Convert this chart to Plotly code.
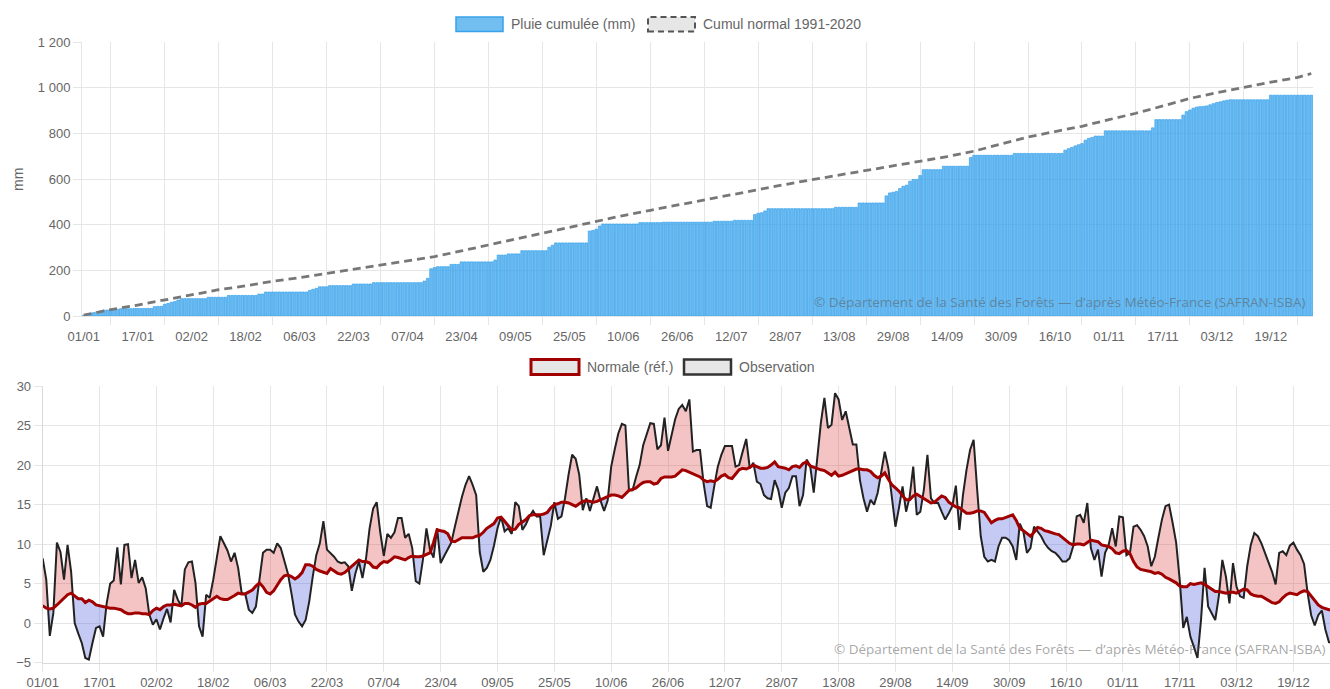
import plotly.graph_objects as go

W, H = 1330, 689

# ---------------- data ----------------
tick_labels = ["01/01", "17/01", "02/02", "18/02", "06/03", "22/03", "07/04", "23/04",
               "09/05", "25/05", "10/06", "26/06", "12/07", "28/07", "13/08", "29/08",
               "14/09", "30/09", "16/10", "01/11", "17/11", "03/12", "19/12"]
tick_days = list(range(0, 365, 16))
days = list(range(365))

rain_cumul = [
    3, 6, 12, 15, 19, 22, 26, 26, 29, 29,
    29, 32, 32, 32, 32, 33, 33, 33, 33, 33,
    33, 41, 42, 42, 51, 55, 60, 63, 70, 76,
    76, 76, 76, 76, 76, 76, 76, 82, 82, 82,
    82, 82, 82, 90, 90, 90, 90, 90, 90, 90,
    90, 90, 96, 96, 105, 105, 105, 105, 105, 105,
    105, 105, 105, 105, 105, 105, 105, 112, 117, 121,
    128, 128, 128, 133, 133, 133, 133, 133, 133, 133,
    140, 140, 140, 140, 140, 140, 146, 146, 146, 146,
    146, 146, 146, 146, 146, 146, 146, 146, 146, 146,
    146, 153, 165, 207, 212, 216, 216, 216, 216, 226,
    226, 226, 237, 237, 237, 237, 237, 237, 237, 237,
    237, 237, 245, 267, 267, 267, 272, 272, 272, 272,
    286, 286, 286, 286, 286, 286, 286, 286, 301, 310,
    320, 320, 320, 320, 320, 320, 320, 320, 320, 320,
    372, 375, 380, 394, 403, 403, 403, 403, 403, 403,
    403, 403, 403, 403, 403, 409, 409, 409, 409, 409,
    409, 409, 411, 411, 411, 411, 411, 411, 411, 411,
    411, 411, 411, 411, 411, 411, 411, 415, 415, 415,
    415, 415, 415, 419, 419, 419, 419, 419, 419, 444,
    450, 452, 460, 470, 470, 470, 470, 470, 470, 470,
    470, 470, 470, 470, 470, 470, 470, 470, 470, 470,
    470, 470, 470, 476, 476, 476, 476, 476, 476, 476,
    495, 495, 495, 495, 495, 495, 495, 495, 526, 539,
    542, 545, 558, 568, 573, 590, 598, 598, 615, 641,
    641, 641, 641, 641, 641, 656, 656, 656, 656, 656,
    656, 656, 656, 694, 704, 704, 704, 704, 704, 704,
    704, 704, 704, 704, 704, 704, 712, 712, 712, 712,
    712, 712, 712, 712, 712, 712, 712, 712, 712, 712,
    712, 726, 733, 738, 745, 750, 755, 770, 778, 782,
    788, 788, 788, 811, 811, 811, 811, 811, 811, 811,
    811, 811, 811, 811, 811, 811, 811, 824, 860, 860,
    860, 860, 860, 860, 860, 860, 880, 895, 902, 910,
    915, 917, 918, 920, 925, 930, 935, 938, 942, 945,
    947, 947, 947, 947, 947, 947, 947, 947, 947, 947,
    947, 947, 967, 967, 967, 967, 967, 967, 967, 967,
    967, 967, 967, 967, 967,
]

normal_cumul_days = [0, 8, 16, 24, 32, 40, 48, 56, 64, 72, 80, 88, 96, 104, 112, 120,
                     128, 136, 144, 152, 160, 168, 176, 184, 192, 200, 208, 216, 224,
                     232, 240, 248, 256, 264, 272, 280, 288, 296, 304, 312, 320, 328,
                     336, 344, 352, 360, 364]
normal_cumul = [4, 28, 48, 70, 92, 115, 132, 152, 168, 187, 205, 223, 242, 260, 285, 311,
                336, 362, 388, 413, 440, 463, 486, 508, 532, 556, 576, 597, 617,
                639, 657, 678, 698, 722, 752, 784, 808, 831, 860, 888, 920, 953,
                978, 1002, 1024, 1045, 1062]

temp_obs = [
    8.2, 5.5, -1.6, 1.3, 10.2, 9.0, 5.5, 9.9, 6.5, 0.0,
    -1.3, -2.5, -4.4, -4.6, -2.5, -0.6, -0.4, -1.7, 2.5, 5.0,
    5.4, 9.6, 4.9, 9.9, 10.0, 5.7, 8.0, 5.1, 5.8, 4.4,
    1.1, -0.2, 0.5, -0.8, 0.6, 1.8, 0.1, 4.2, 3.0, 2.1,
    6.8, 7.7, 7.8, 5.1, -0.4, -1.7, 3.6, 3.2, 5.5, 8.4,
    11.0, 10.1, 9.2, 7.8, 8.9, 7.0, 3.8, 3.7, 1.7, 1.3,
    2.1, 5.5, 8.9, 9.3, 9.3, 8.9, 10.1, 9.5, 8.0, 6.3,
    3.8, 1.1, 0.2, -0.4, 0.4, 2.7, 5.9, 8.6, 10.1, 12.9,
    9.3, 8.9, 8.4, 7.8, 7.6, 7.7, 7.2, 4.1, 6.3, 7.8,
    5.7, 8.2, 12.0, 14.5, 15.3, 11.5, 8.5, 11.3, 10.8, 11.5,
    13.3, 13.3, 10.8, 11.3, 9.5, 5.3, 5.0, 8.0, 12.0, 9.3,
    8.3, 12.0, 7.6, 8.5, 9.3, 10.2, 12.2, 14.2, 16.0, 17.5,
    18.6, 17.5, 16.2, 9.0, 6.5, 7.0, 8.0, 9.8, 12.0, 13.5,
    11.6, 12.0, 11.3, 15.3, 14.8, 11.8, 12.5, 13.5, 14.2, 13.5,
    13.5, 8.6, 10.5, 12.3, 15.3, 13.2, 13.5, 15.8, 18.8, 21.3,
    20.8, 18.8, 14.3, 15.8, 14.2, 15.7, 17.3, 15.5, 14.2, 15.5,
    19.8, 22.0, 24.0, 25.2, 25.0, 16.8, 16.8, 18.5, 20.0, 22.5,
    24.0, 25.3, 25.2, 22.0, 22.5, 26.0, 21.8, 24.0, 25.8, 27.1,
    27.6, 26.8, 28.3, 21.7, 21.9, 21.9, 17.7, 14.8, 14.6, 17.3,
    19.8, 21.3, 22.4, 22.4, 22.4, 19.8, 20.0, 21.7, 23.3, 19.6,
    20.3, 17.9, 17.6, 16.2, 15.8, 15.7, 18.1, 16.9, 14.6, 16.5,
    17.1, 18.6, 18.6, 14.8, 16.2, 20.7, 19.9, 16.5, 20.7, 25.3,
    28.5, 24.7, 25.1, 29.1, 28.3, 25.7, 26.8, 24.9, 22.6, 22.6,
    18.1, 15.8, 14.1, 15.6, 15.0, 16.5, 19.4, 21.7, 19.6, 15.6,
    12.2, 14.6, 17.3, 14.1, 16.0, 19.8, 13.7, 14.1, 16.9, 21.3,
    15.8, 15.2, 15.2, 14.1, 13.1, 13.9, 14.8, 17.4, 11.8, 16.2,
    19.4, 21.9, 23.2, 16.9, 11.0, 8.4, 7.8, 8.0, 7.8, 9.7,
    10.8, 10.8, 10.5, 9.7, 8.0, 12.6, 11.6, 8.9, 9.5, 12.2,
    11.6, 11.0, 10.1, 9.5, 9.1, 8.9, 8.4, 7.8, 7.8, 8.2,
    9.7, 13.5, 13.7, 12.7, 15.2, 9.5, 8.0, 9.3, 5.9, 8.9,
    9.9, 12.0, 9.7, 13.5, 13.4, 8.6, 8.9, 12.2, 12.4, 11.8,
    11.0, 9.7, 7.2, 8.4, 10.8, 13.1, 14.8, 15.0, 12.7, 10.2,
    5.5, -0.6, 0.8, -1.7, -3.0, -4.4, 0.4, 7.0, 2.1, 1.3,
    0.4, 3.4, 8.0, 5.9, 2.5, 7.6, 4.6, 3.4, 3.2, 7.2,
    9.9, 11.4, 11.0, 10.1, 8.9, 7.6, 6.5, 4.9, 8.9, 9.1,
    8.6, 9.8, 10.2, 9.3, 8.6, 7.5, 3.8, 1.0, -0.3, 1.0,
    1.6, -0.8, -2.4, -2.5, -2.3,
]

temp_norm = [
    2.2, 1.9, 1.8, 1.9, 2.3, 2.7, 3.1, 3.6, 3.8, 3.4,
    3.1, 3.1, 2.6, 2.9, 2.7, 2.3, 2.2, 2.1, 2.0, 1.9,
    1.9, 1.8, 1.7, 1.4, 1.2, 1.2, 1.3, 1.3, 1.2, 1.2,
    1.1, 1.6, 1.9, 1.7, 2.1, 2.3, 2.3, 2.4, 2.3, 2.2,
    2.5, 2.5, 2.3, 2.0, 2.4, 2.5, 2.5, 2.8, 3.1, 3.4,
    3.1, 3.0, 3.0, 3.2, 3.5, 3.8, 3.7, 3.7, 3.9, 4.2,
    4.7, 5.1, 4.6, 3.9, 3.7, 4.1, 4.8, 5.5, 6.0, 6.1,
    5.9, 5.6, 5.9, 6.4, 7.4, 7.4, 7.2, 6.8, 6.6, 6.4,
    6.3, 6.9, 6.6, 6.3, 6.2, 6.4, 6.8, 7.2, 7.7, 8.0,
    7.8, 7.8, 7.6, 7.1, 7.0, 7.5, 7.8, 7.7, 8.0, 8.4,
    8.3, 8.1, 8.0, 8.3, 8.5, 8.4, 8.4, 8.5, 8.7, 8.9,
    10.2, 11.8, 11.7, 11.6, 11.3, 10.4, 10.3, 10.6, 10.8, 10.8,
    10.8, 10.8, 11.0, 11.1, 11.5, 12.0, 12.3, 12.6, 13.3, 13.4,
    12.9, 12.3, 11.8, 11.9, 12.5, 12.8, 13.1, 13.6, 13.7, 13.7,
    13.7, 13.8, 14.0, 14.6, 15.0, 15.1, 15.3, 15.3, 15.2, 15.0,
    14.8, 15.1, 15.4, 15.5, 15.4, 15.3, 15.4, 15.6, 15.7, 15.9,
    16.2, 16.2, 16.1, 15.9, 16.4, 16.8, 16.9, 17.1, 17.5, 17.8,
    17.9, 17.9, 17.6, 17.7, 18.3, 18.5, 18.5, 18.5, 18.6, 19.0,
    19.4, 19.3, 19.1, 18.9, 18.7, 18.5, 18.1, 17.9, 18.0, 17.9,
    18.2, 18.6, 18.8, 18.4, 18.3, 18.9, 19.4, 19.6, 19.5, 19.7,
    20.0, 19.8, 19.6, 19.6, 19.7, 20.0, 20.4, 19.8, 19.7, 19.6,
    19.4, 19.8, 19.9, 19.7, 20.2, 20.4, 19.9, 19.7, 19.6, 19.4,
    19.3, 19.0, 18.7, 19.1, 18.6, 18.7, 18.9, 19.1, 19.3, 19.5,
    19.5, 19.4, 19.4, 19.2, 18.7, 18.4, 18.6, 19.0, 18.2, 17.5,
    17.1, 16.7, 16.1, 15.6, 15.6, 16.1, 16.3, 16.0, 15.8, 15.5,
    15.2, 15.3, 15.7, 16.1, 15.9, 15.3, 15.0, 14.7, 14.6, 14.3,
    13.9, 13.9, 14.0, 14.2, 14.2, 14.0, 13.4, 12.7, 13.0, 13.2,
    13.2, 13.4, 13.6, 13.7, 13.0, 12.0, 11.7, 11.4, 11.0, 11.5,
    12.1, 12.0, 11.7, 11.6, 11.4, 11.3, 11.2, 10.8, 10.4, 10.1,
    9.9, 10.0, 10.0, 9.9, 10.2, 10.5, 10.4, 10.3, 9.9, 9.8,
    9.7, 9.4, 8.9, 8.8, 9.1, 9.2, 8.8, 7.8, 7.1, 6.8,
    6.7, 6.6, 6.5, 6.3, 6.4, 6.2, 5.8, 5.6, 5.4, 5.1,
    4.7, 4.6, 4.6, 5.0, 4.9, 5.0, 5.1, 4.9, 4.6, 4.3,
    4.0, 4.0, 3.9, 3.8, 3.9, 3.9, 3.8, 4.0, 4.3, 4.2,
    3.7, 3.5, 3.4, 3.4, 3.1, 2.9, 2.6, 2.5, 2.7, 3.2,
    3.6, 3.8, 3.7, 3.6, 3.9, 4.1, 4.0, 3.4, 2.8, 2.3,
    2.0, 1.8, 1.7, 1.7, 1.8,
]

y1_ticks = [0, 200, 400, 600, 800, 1000, 1200]
y1_labels = ["0", "200", "400", "600", "800", "1 000", "1 200"]
y2_ticks = [-5, 0, 5, 10, 15, 20, 25, 30]

assert len(rain_cumul) == 365, len(rain_cumul)
assert len(temp_obs) == 365, len(temp_obs)
assert len(temp_norm) == 365, len(temp_norm)
assert len(normal_cumul) == len(normal_cumul_days)

# ---------------- styles ----------------
GRID = "#e6e6e6"
TXT = "#666666"
FONT = "Liberation Sans, Arial, Helvetica, sans-serif"
BLUE = "rgb(54,162,235)"
DARKRED = "#a00000"
WATERMARK = "© Département de la Santé des Forêts — d’après Météo-France (SAFRAN-ISBA)"


def px(x):
    return x / W


def py(y):
    return 1 - y / H


# fill polygons between observation and normal (crossing points inserted)
xe, oe, ne = [], [], []
for i in range(len(days)):
    xe.append(days[i]); oe.append(temp_obs[i]); ne.append(temp_norm[i])
    if i < len(days) - 1:
        d0 = temp_obs[i] - temp_norm[i]
        d1 = temp_obs[i + 1] - temp_norm[i + 1]
        if d0 * d1 < 0:
            t = d0 / (d0 - d1)
            yc = temp_norm[i] + t * (temp_norm[i + 1] - temp_norm[i])
            xe.append(days[i] + t); oe.append(yc); ne.append(yc)
upper = [max(a, b) for a, b in zip(oe, ne)]
lower = [min(a, b) for a, b in zip(oe, ne)]

fig = go.Figure()

# top chart
fig.add_trace(go.Bar(x=days, y=rain_cumul, width=0.78,
                     marker=dict(color="rgba(54,162,235,0.72)",
                                 line=dict(color=BLUE, width=0.7)),
                     xaxis="x", yaxis="y", hoverinfo="skip"))
fig.add_trace(go.Scatter(x=normal_cumul_days, y=normal_cumul, mode="lines",
                         line=dict(color="#777777", width=2.8, dash="8px,5px"),
                         xaxis="x", yaxis="y", hoverinfo="skip"))

# bottom chart fills
fig.add_trace(go.Scatter(x=xe, y=ne, mode="lines", line=dict(width=0),
                         xaxis="x2", yaxis="y2", hoverinfo="skip"))
fig.add_trace(go.Scatter(x=xe, y=upper, mode="lines", line=dict(width=0),
                         fill="tonexty", fillcolor="rgba(220,60,60,0.3)",
                         xaxis="x2", yaxis="y2", hoverinfo="skip"))
fig.add_trace(go.Scatter(x=xe, y=ne, mode="lines", line=dict(width=0),
                         xaxis="x2", yaxis="y2", hoverinfo="skip"))
fig.add_trace(go.Scatter(x=xe, y=lower, mode="lines", line=dict(width=0),
                         fill="tonexty", fillcolor="rgba(60,80,220,0.3)",
                         xaxis="x2", yaxis="y2", hoverinfo="skip"))
fig.add_trace(go.Scatter(x=days, y=temp_obs, mode="lines",
                         line=dict(color="#222222", width=2),
                         xaxis="x2", yaxis="y2", hoverinfo="skip"))
fig.add_trace(go.Scatter(x=days, y=temp_norm, mode="lines",
                         line=dict(color=DARKRED, width=3),
                         xaxis="x2", yaxis="y2", hoverinfo="skip"))

tickfont = dict(family=FONT, size=13, color=TXT)
legfont = dict(family=FONT, size=14, color=TXT)

fig.update_layout(
    width=W, height=H, template="none", showlegend=False,
    margin=dict(l=0, r=0, t=0, b=0, pad=0),
    paper_bgcolor="white", plot_bgcolor="white",
    font=dict(family=FONT, size=13, color=TXT),
    xaxis=dict(domain=[px(82), px(1313)], anchor="y", range=[-0.5, 364.5],
               tickvals=tick_days, ticktext=tick_labels, tickfont=tickfont,
               ticks="outside", ticklen=8, tickcolor="rgba(0,0,0,0)",
               showgrid=False, zeroline=False, showline=True, linecolor=GRID,
               minor=dict(tickvals=list(range(8, 365, 16)), ticks="outside", ticklen=8,
                          tickcolor=GRID, showgrid=True, gridcolor=GRID, gridwidth=1),
               automargin=False, fixedrange=True),
    yaxis=dict(domain=[py(316), py(42)], anchor="x", range=[0, 1200],
               tickvals=y1_ticks, ticktext=y1_labels, tickfont=tickfont,
               ticks="outside", ticklen=8, tickcolor=GRID,
               showgrid=True, gridcolor=GRID, zeroline=False, showline=True, linecolor=GRID,
               automargin=False, fixedrange=True),
    xaxis2=dict(domain=[px(42.7), 1.0], anchor="y2", range=[0, 362.3],
                tickvals=tick_days, ticktext=tick_labels, tickfont=tickfont,
                ticks="outside", ticklen=8, tickcolor=GRID,
                showgrid=True, gridcolor=GRID, zeroline=False, showline=True, linecolor="#d9d9d9",
                automargin=False, fixedrange=True),
    yaxis2=dict(domain=[py(662.7), py(386)], anchor="x2", range=[-5, 30],
                tickvals=y2_ticks, tickfont=tickfont,
                ticks="outside", ticklen=8, tickcolor=GRID,
                showgrid=True, gridcolor=GRID, zeroline=False, showline=True, linecolor="#d9d9d9",
                automargin=False, fixedrange=True),
)

shapes = [
    # top legend
    dict(type="rect", xref="paper", yref="paper", x0=px(456), x1=px(503), y0=py(31.5), y1=py(17),
         fillcolor="rgba(54,162,235,0.7)", line=dict(color=BLUE, width=1.5)),
    dict(type="rect", xref="paper", yref="paper", x0=px(648), x1=px(695), y0=py(31.5), y1=py(17),
         fillcolor="#e6e6e6", line=dict(color="#555555", width=2, dash="6px,4px")),
    # bottom legend
    dict(type="rect", xref="paper", yref="paper", x0=px(531), x1=px(579), y0=py(374.5), y1=py(359.5),
         fillcolor="#e6e6e6", line=dict(color=DARKRED, width=3)),
    dict(type="rect", xref="paper", yref="paper", x0=px(684), x1=px(731), y0=py(374.5), y1=py(359.5),
         fillcolor="#e6e6e6", line=dict(color="#333333", width=2.5)),
]

wm_font = dict(family="Open Sans, sans-serif", size=13.5, color="rgba(90,90,90,0.55)")
annotations = [
    dict(text="Pluie cumulée (mm)", x=px(509), y=py(24), xref="paper", yref="paper",
         xanchor="left", yanchor="middle", showarrow=False, font=legfont),
    dict(text="Cumul normal 1991-2020", x=px(701), y=py(24), xref="paper", yref="paper",
         xanchor="left", yanchor="middle", showarrow=False, font=legfont),
    dict(text="Normale (réf.)", x=px(585), y=py(367), xref="paper", yref="paper",
         xanchor="left", yanchor="middle", showarrow=False, font=legfont),
    dict(text="Observation", x=px(737), y=py(367), xref="paper", yref="paper",
         xanchor="left", yanchor="middle", showarrow=False, font=legfont),
    dict(text="mm", x=px(18), y=py(180), xref="paper", yref="paper", textangle=-90,
         xanchor="center", yanchor="middle", showarrow=False, font=legfont),
    dict(text=WATERMARK, x=px(1307), y=py(302), xref="paper", yref="paper",
         xanchor="right", yanchor="middle", showarrow=False, font=wm_font),
    dict(text=WATERMARK, x=px(1327), y=py(649), xref="paper", yref="paper",
         xanchor="right", yanchor="middle", showarrow=False, font=wm_font),
]

fig.update_layout(shapes=shapes, annotations=annotations)

fig.write_html("out.html", config={"displayModeBar": False, "staticPlot": True},
               post_script="document.body.style.margin='0';document.body.style.overflow='hidden';")
